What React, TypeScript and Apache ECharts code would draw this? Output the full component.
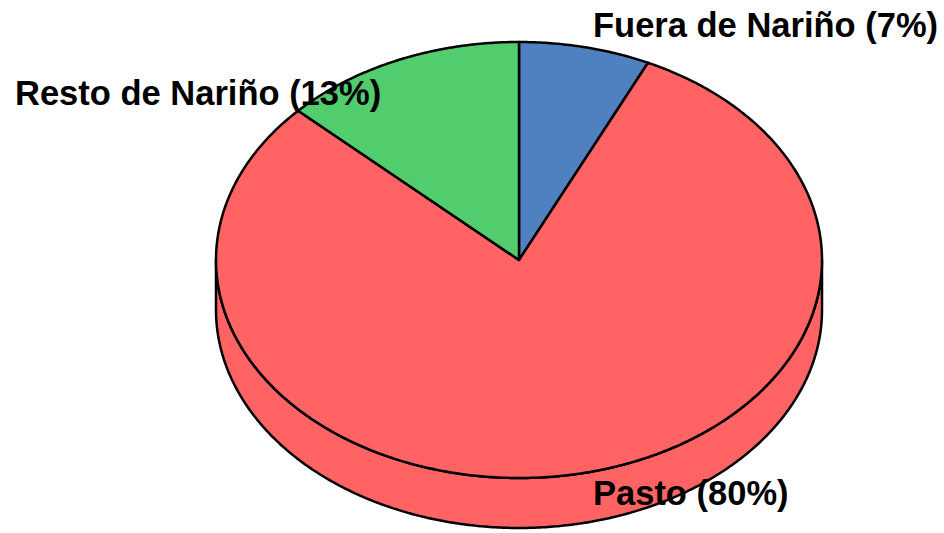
import React, { useEffect, useRef } from "react";
import * as echarts from "echarts";

const categories = ["Fuera de Nariño", "Pasto", "Resto de Nariño"];
const shares = [7, 80, 13];
const sliceColors = ["#4F80C0", "#FF6363", "#52CD6E"];

// layout (pixels)
const CX = 519;
const CY = 260;
const RX = 303;
const RY = 218;
const DEPTH = 50;
const labelAnchors: number[][] = [
  [593, 25],
  [593, 493],
  [15, 93],
];

function pt(theta: number, dy = 0): number[] {
  const r = (theta * Math.PI) / 180;
  return [CX + RX * Math.sin(r), CY - RY * Math.cos(r) + dy];
}

function arcPoints(a1: number, a2: number, dy = 0): number[][] {
  const out: number[][] = [];
  const step = 0.5;
  for (let t = a1; t < a2; t += step) out.push(pt(t, dy));
  out.push(pt(a2, dy));
  return out;
}

export default function App() {
  const ref = useRef<HTMLDivElement>(null);
  useEffect(() => {
    if (!ref.current) return;
    const chart = echarts.init(ref.current, undefined, { renderer: "svg" });
    const total = shares.reduce((a, b) => a + b, 0);
    chart.setOption({
      animation: false,
      backgroundColor: "#ffffff",
      series: [
        {
          type: "custom",
          coordinateSystem: "none",
          data: shares.map((v, i) => ({ name: categories[i], value: [i, v] })),
          renderItem: (params: any, api: any) => {
            const i = params.dataIndex;
            let start = 0;
            for (let j = 0; j < i; j++) start += shares[j];
            const v = api.value(1);
            const a1 = (start / total) * 360;
            const a2 = ((start + v) / total) * 360;
            const color = sliceColors[i];
            const children: any[] = [];
            const s1 = Math.max(a1, 90);
            const s2 = Math.min(a2, 270);
            if (s2 > s1) {
              const topArc = arcPoints(s1, s2);
              const botArc = arcPoints(s1, s2, DEPTH).reverse();
              children.push({
                type: "polygon",
                z2: 1,
                shape: { points: topArc.concat(botArc) },
                style: { fill: color, stroke: "#000", lineWidth: 2.5, lineJoin: "round" },
              });
            }
            const top = [[CX, CY]].concat(arcPoints(a1, a2));
            children.push({
              type: "polygon",
              z2: 10,
              shape: { points: top },
              style: { fill: color, stroke: "#000", lineWidth: 2.5, lineJoin: "round" },
            });
            const pct = Math.round((v / total) * 100);
            children.push({
              type: "text",
              z2: 100,
              x: labelAnchors[i][0],
              y: labelAnchors[i][1],
              style: {
                text: `${categories[i]} (${pct}%)`,
                fill: "#000",
                fontSize: 34.5,
                fontWeight: "bold",
                fontFamily: "'Liberation Sans', Arial, sans-serif",
                textAlign: "left",
                textVerticalAlign: "middle",
              },
            });
            return { type: "group", children };
          },
        },
      ],
    });
    return () => chart.dispose();
  }, []);
  return (
    <div
      ref={ref}
      style={{ position: "fixed", left: 0, top: 0, width: 944, height: 533 }}
    />
  );
}
